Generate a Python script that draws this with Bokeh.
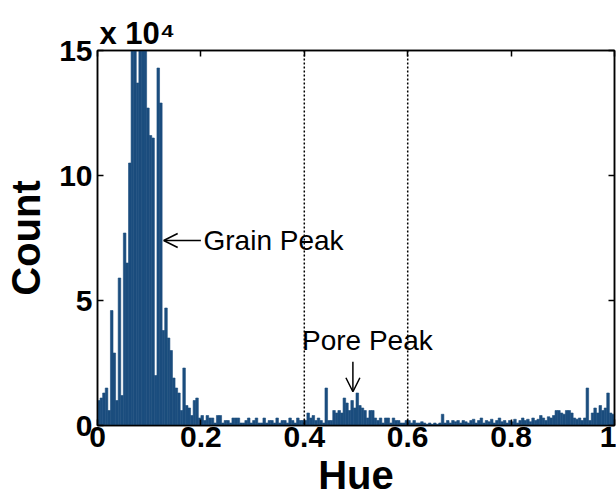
from bokeh.plotting import figure
from bokeh.models import (ColumnDataSource, FixedTicker, LinearAxis, Label, Arrow,
                          OpenHead, Span)
from bokeh.embed import file_html
from bokeh.resources import INLINE

# Histogram of hue, bin width 0.005, counts in units of 10^4
bin_width = 0.005
counts = [
    1.0, 1.1, 1.3, 1.5, 0.6, 4.6, 2.9, 1.0, 5.9, 1.2,
    7.7, 6.5, 10.5, 16, 16, 13.7, 16, 16, 16, 12.7,
    11.6, 11.5, 2.0, 14.3, 12.9, 3.8, 4.7, 3.5, 3.0, 1.9,
    1.5, 1.3, 0.6, 2.3, 0.8, 0.7, 0.4, 1.0, 1.1, 0.3,
    0.4, 0.2, 0.4, 0.3, 0.3, 0.1, 0.4, 0.4, 0.1, 0.2,
    0.2, 0.1, 0.3, 0.3, 0.3, 0.1, 0.1, 0.2, 0.3, 0.1,
    0.2, 0.3, 0.1, 0.1, 0.3, 0.1, 0.2, 0.2, 0.1, 0.3,
    0.1, 0.2, 0.2, 0.1, 0.3, 0.2, 0.1, 0.3, 0.2, 0.2,
    0.2, 0.5, 0.3, 0.4, 0.2, 0.3, 0.2, 0.1, 1.5, 0.2,
    0.2, 0.6, 0.5, 0.6, 0.5, 1.1, 0.9, 0.6, 1.0, 0.7,
    1.3, 0.8, 0.7, 0.6, 0.3, 0.6, 0.6, 0.3, 0.2, 0.3,
    0.1, 0.3, 0.3, 0.1, 0.3, 0.2, 0.2, 0.1, 0.1, 0.2,
    0.2, 0.1, 0.2, 0.1, 0.1, 0.15, 0.1, 0.05, 0.1, 0.05,
    0.1, 0.05, 0.1, 0.45, 0.1, 0.2, 0.1, 0.2, 0.15, 0.2,
    0.1, 0.2, 0.15, 0.1, 0.2, 0.25, 0.1, 0.2, 0.3, 0.1,
    0.2, 0.15, 0.25, 0.1, 0.2, 0.3, 0.15, 0.2, 0.1, 0.2,
    0.15, 0.25, 0.1, 0.2, 0.3, 0.2, 0.25, 0.15, 0.3, 0.2,
    0.25, 0.4, 0.3, 0.2, 0.35, 0.3, 0.4, 0.6, 0.6, 0.5,
    0.45, 0.6, 0.6, 0.5, 0.3, 0.25, 0.3, 0.2, 0.3, 1.5,
    0.2, 0.5, 0.7, 0.5, 0.8, 0.6, 0.7, 1.3, 0.5, 0.45,
]
x_ticks = [0, 0.2, 0.4, 0.6, 0.8, 1]
x_labels = ["0", "0.2", "0.4", "0.6", "0.8", "1"]
y_ticks = [0, 5, 10, 15]
y_labels = ["0", "5", "10", "15"]
threshold_lines = [0.4, 0.6]
exponent_text = "x 10\u2074"

lefts = [i * bin_width for i in range(len(counts))]
rights = [(i + 1) * bin_width for i in range(len(counts))]
src = ColumnDataSource(dict(left=lefts, right=rights, top=counts,
                            bottom=[0] * len(counts)))

FONT = "Liberation Sans"
BAR = "#1b4d7e"

p = figure(width=616, height=500, x_range=(0, 1), y_range=(0, 15),
           output_backend="svg", toolbar_location=None,
           min_border_left=97, min_border_right=2, min_border_top=50,
           min_border_bottom=75)
p.background_fill_color = "white"
p.border_fill_color = "white"
p.grid.visible = False
p.outline_line_color = "black"
p.outline_line_width = 1.5

# exponent as title
p.title.text = exponent_text
p.title.text_font = FONT
p.title.text_font_style = "bold"
p.title.text_font_size = "31px"
p.title.text_color = "black"
p.title.align = "left"
p.title.offset = 2
p.title.standoff = 0

p.quad(left="left", right="right", top="top", bottom="bottom", source=src,
       fill_color=BAR, line_color=BAR, line_width=0.6)

for xv in threshold_lines:
    p.add_layout(Span(location=xv, dimension="height", line_color="black",
                      line_width=1.5, line_dash="2 2"))

# axes
xa = p.xaxis[0]
xa.ticker = FixedTicker(ticks=x_ticks)
xa.major_label_overrides = {t: l for t, l in zip(x_ticks, x_labels)}
ya = p.yaxis[0]
ya.ticker = FixedTicker(ticks=y_ticks)
ya.major_label_overrides = {t: l for t, l in zip(y_ticks, y_labels)}
xa.axis_label = "Hue"
ya.axis_label = "Count"
for ax in (xa, ya):
    ax.axis_line_width = 1.5
    ax.major_tick_in = 6
    ax.major_tick_out = 0
    ax.major_tick_line_width = 1.5
    ax.minor_tick_line_color = None
    ax.major_label_text_font = FONT
    ax.major_label_text_font_style = "bold"
    ax.major_label_text_font_size = "30px"
    ax.major_label_text_color = "black"
    ax.axis_label_text_font = FONT
    ax.axis_label_text_font_style = "bold"
    ax.axis_label_text_font_size = "40px"
    ax.axis_label_text_color = "black"
xa.major_label_standoff = 1
xa.axis_label_standoff = 3
ya.major_label_standoff = 5
ya.axis_label_standoff = 8

# mirrored tick marks on top and right (no labels)
top_ax = LinearAxis(ticker=FixedTicker(ticks=x_ticks))
top_ax.major_label_overrides = {t: "" for t in x_ticks}
right_ax = LinearAxis(ticker=FixedTicker(ticks=y_ticks))
right_ax.major_label_overrides = {t: "" for t in y_ticks}
for ax in (top_ax, right_ax):
    ax.axis_line_width = 1.5
    ax.major_tick_in = 6
    ax.major_tick_out = 0
    ax.major_tick_line_width = 1.5
    ax.minor_tick_line_color = None
    ax.major_label_text_font_size = "1px"
    ax.major_label_standoff = 0
p.add_layout(top_ax, "above")
p.add_layout(right_ax, "right")

# annotations
grain = dict(x0=0.2, x1=0.128, y=7.4, tx=0.205)
pore = dict(x=0.494, y0=2.55, y1=1.35, tx=0.522, ty=3.4)
p.add_layout(Arrow(end=OpenHead(size=14, line_width=1.5, line_color="black"),
                   x_start=grain["x0"], y_start=grain["y"],
                   x_end=grain["x1"], y_end=grain["y"],
                   line_width=1.5, line_color="black"))
p.add_layout(Label(x=grain["tx"], y=grain["y"], text="Grain Peak",
                   text_font=FONT, text_font_size="28px",
                   text_baseline="middle", text_color="black"))
p.add_layout(Arrow(end=OpenHead(size=14, line_width=1.5, line_color="black"),
                   x_start=pore["x"], y_start=pore["y0"],
                   x_end=pore["x"], y_end=pore["y1"],
                   line_width=1.5, line_color="black"))
p.add_layout(Label(x=pore["tx"], y=pore["ty"], text="Pore Peak",
                   text_font=FONT, text_font_size="28px", text_align="center",
                   text_baseline="middle", text_color="black"))

open("out.html", "w").write(file_html(p, INLINE))
